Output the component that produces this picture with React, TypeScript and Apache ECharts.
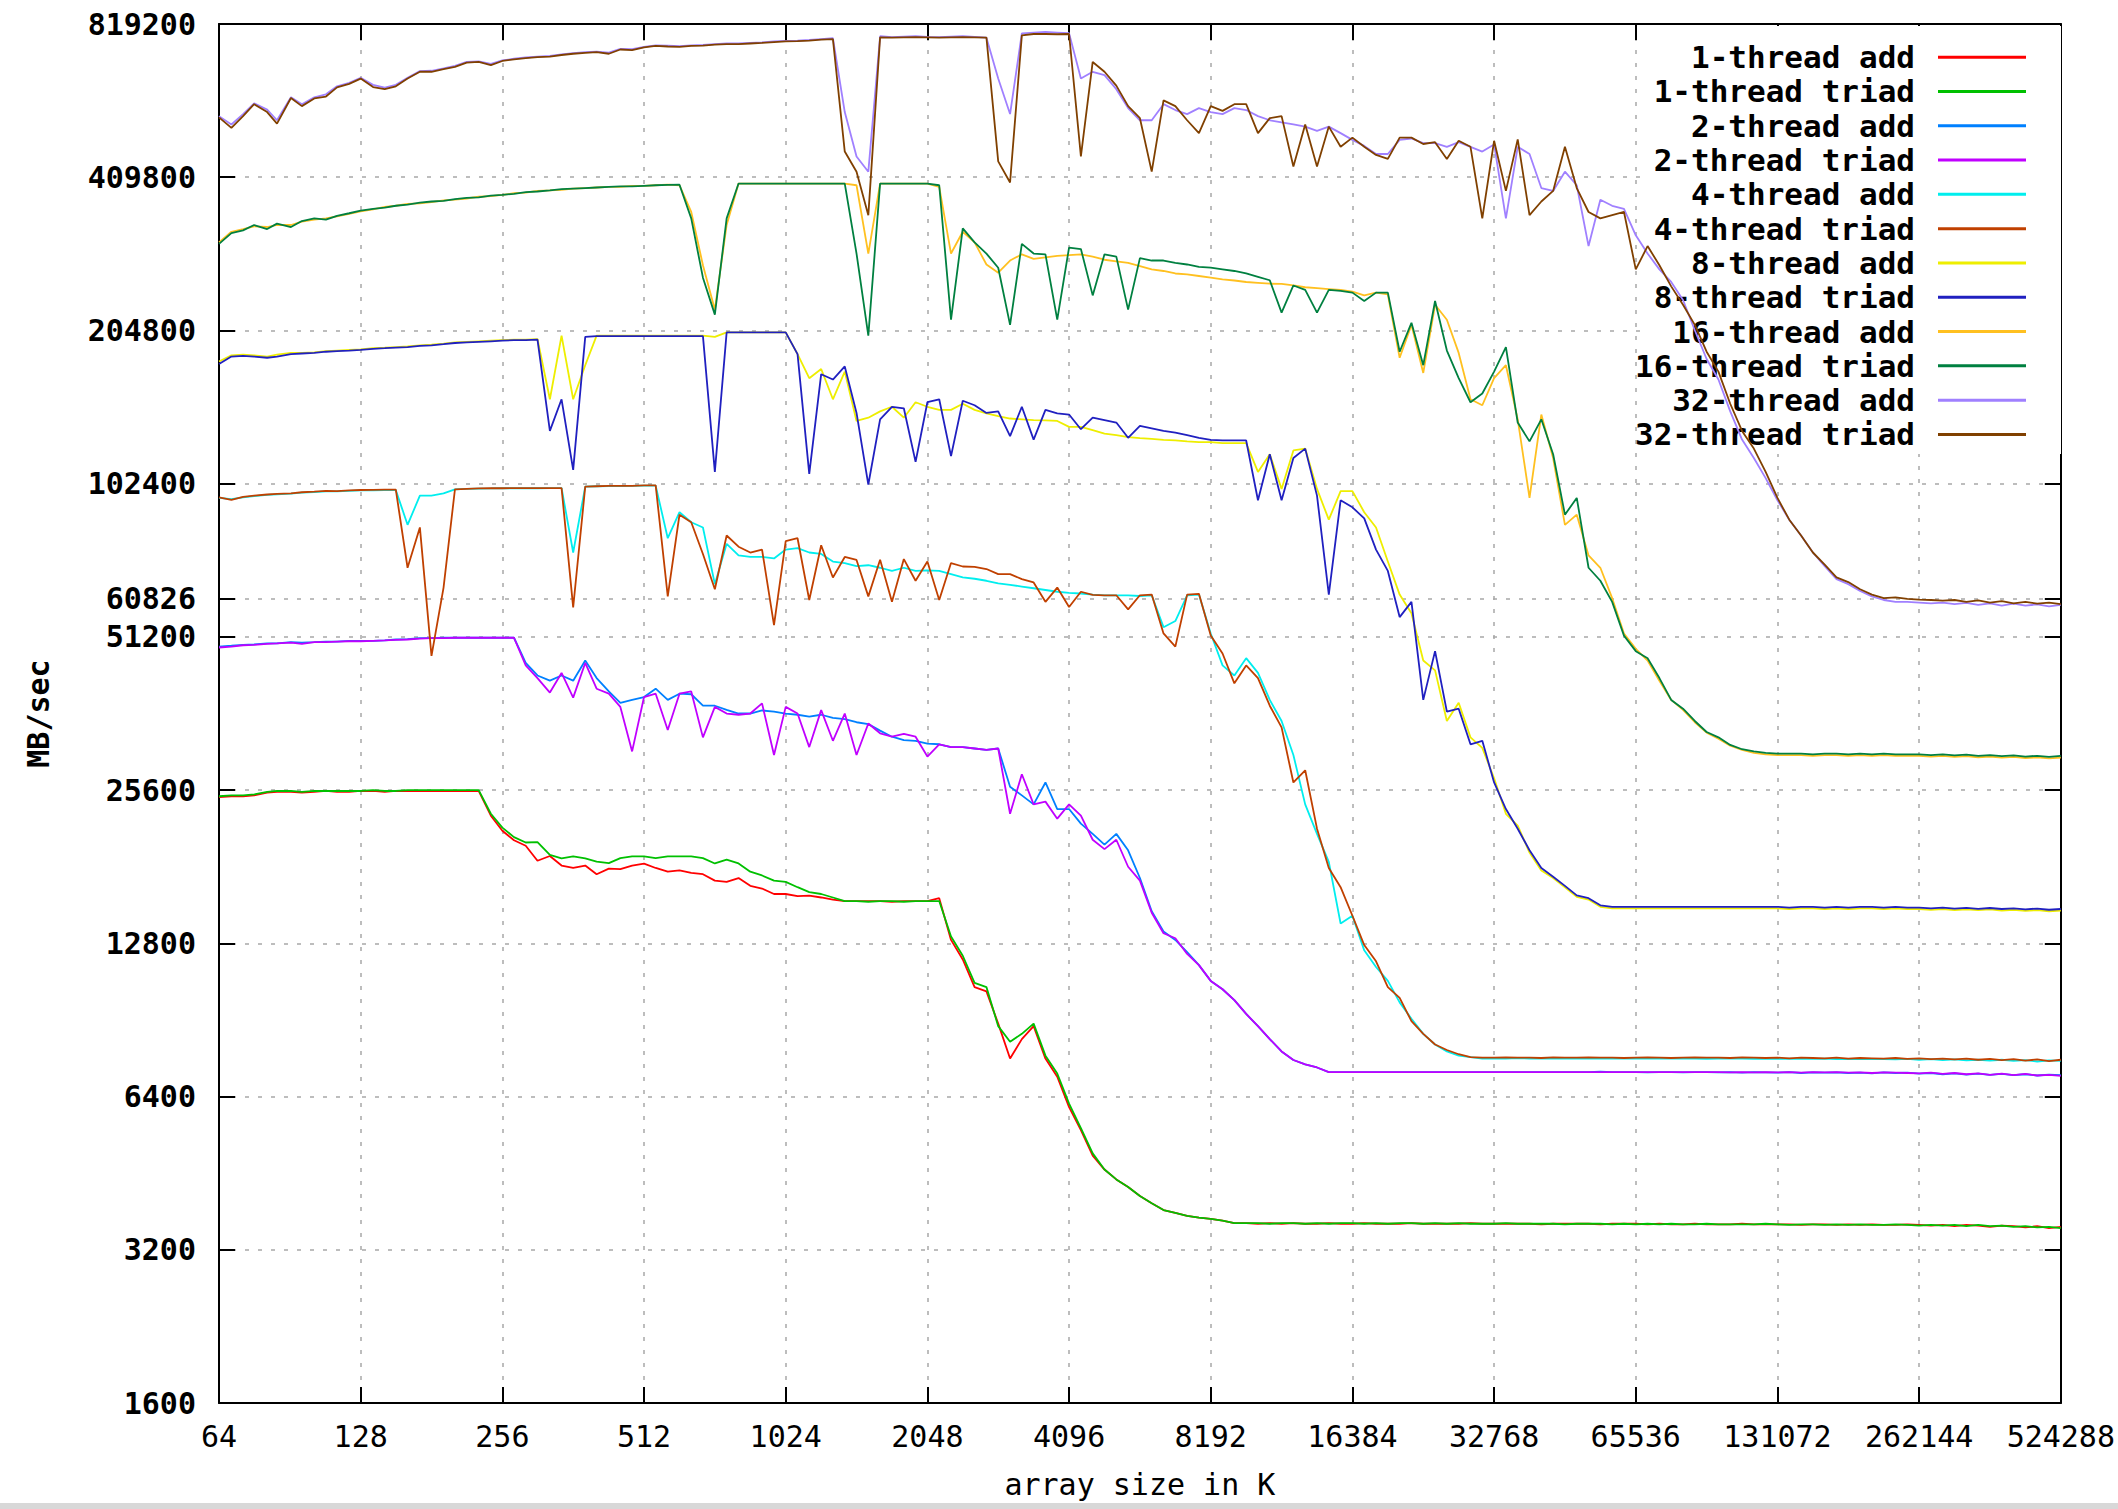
import React, { useEffect, useRef } from 'react';
import * as echarts from 'echarts';

// array sizes in K (x values of every sample)
const sizeK = [
  64, 68, 72, 76, 81, 85, 91, 96, 102, 108, 114, 121,
  128, 136, 144, 152, 161, 171, 181, 192, 203, 215, 228, 242,
  256, 271, 287, 304, 323, 342, 362, 384, 406, 431, 456, 483,
  512, 542, 575, 609, 645, 683, 724, 767, 813, 861, 912, 967,
  1024, 1085, 1149, 1218, 1290, 1367, 1448, 1534, 1625, 1722, 1825, 1933,
  2048, 2170, 2299, 2435, 2580, 2734, 2896, 3069, 3251, 3444, 3649, 3866,
  4096, 4340, 4598, 4871, 5161, 5468, 5793, 6137, 6502, 6889, 7298, 7732,
  8192, 8679, 9195, 9742, 10321, 10935, 11585, 12274, 13004, 13777, 14596, 15464,
  16384, 17358, 18390, 19484, 20643, 21870, 23170, 24548, 26008, 27554, 29193, 30929,
  32768, 34716, 36781, 38968, 41285, 43740, 46341, 49097, 52016, 55109, 58386, 61858,
  65536, 69433, 73562, 77936, 82570, 87480, 92682, 98193, 104032, 110218, 116772, 123716,
  131072, 138866, 147123, 155872, 165140, 174959, 185364, 196386, 208064, 220436, 233544, 247433,
  262144, 277732, 294247, 311744, 330281, 349920, 370728, 392772, 416128, 440872, 467088, 494866,
  524288,
];

// MB/sec values, one per array size
const add1 = [
  24800, 24900, 24900, 25000, 25300, 25400, 25400, 25300, 25400, 25500, 25400, 25400,
  25500, 25500, 25400, 25500, 25500, 25500, 25500, 25500, 25500, 25500, 25500, 22800,
  21300, 20400, 19900, 18600, 19000, 18200, 18000, 18200, 17500, 17950, 17900, 18200,
  18350, 18000, 17700, 17800, 17600, 17500, 17000, 16900, 17200, 16600, 16400, 16000,
  16000, 15850, 15880, 15750, 15600, 15490, 15490, 15490, 15490, 15450, 15490, 15490,
  15500, 15700, 13000, 11900, 10500, 10300, 8900, 7600, 8300, 8800, 7600, 7000,
  6100, 5500, 4900, 4600, 4400, 4250, 4080, 3950, 3830, 3780, 3730, 3700,
  3680, 3650, 3610, 3610, 3600, 3610, 3600, 3610, 3600, 3600, 3610, 3600,
  3600, 3610, 3600, 3600, 3600, 3610, 3600, 3600, 3600, 3600, 3610, 3600,
  3600, 3600, 3600, 3600, 3590, 3600, 3600, 3600, 3600, 3590, 3600, 3600,
  3600, 3590, 3600, 3590, 3590, 3600, 3590, 3590, 3590, 3600, 3590, 3590,
  3590, 3590, 3580, 3590, 3590, 3580, 3590, 3580, 3590, 3580, 3580, 3590,
  3580, 3570, 3580, 3560, 3580, 3570, 3550, 3570, 3560, 3540, 3560, 3530,
  3550,
];
const triad1 = [
  24900, 25000, 25000, 25100, 25400, 25500, 25500, 25400, 25500, 25500, 25500, 25500,
  25500, 25600, 25500, 25500, 25600, 25600, 25600, 25600, 25600, 25600, 25600, 23000,
  21600, 20700, 20200, 20240, 19100, 18800, 18970, 18800, 18520, 18400, 18820, 18970,
  18970, 18820, 18970, 18970, 18970, 18820, 18370, 18700, 18370, 17700, 17400, 17000,
  16900, 16500, 16140, 16000, 15750, 15490, 15490, 15450, 15490, 15490, 15450, 15490,
  15490, 15500, 13200, 12100, 10700, 10500, 8800, 8200, 8500, 8900, 7700, 7100,
  6200, 5550, 4950, 4600, 4400, 4250, 4080, 3950, 3830, 3780, 3730, 3700,
  3680, 3650, 3610, 3610, 3610, 3600, 3610, 3610, 3600, 3610, 3600, 3610,
  3610, 3600, 3610, 3600, 3610, 3610, 3600, 3610, 3600, 3610, 3600, 3600,
  3600, 3610, 3600, 3600, 3600, 3600, 3590, 3600, 3600, 3600, 3590, 3600,
  3590, 3600, 3590, 3600, 3590, 3590, 3600, 3590, 3590, 3590, 3590, 3600,
  3590, 3580, 3590, 3590, 3580, 3590, 3580, 3590, 3580, 3580, 3590, 3580,
  3570, 3580, 3570, 3580, 3560, 3580, 3560, 3570, 3550, 3560, 3540, 3550,
  3530,
];
const add2 = [
  49000, 49200, 49400, 49500, 49700, 49700, 50000, 49900, 50000, 50100, 50100, 50300,
  50300, 50300, 50400, 50600, 50700, 50900, 50900, 51000, 51000, 51000, 51000, 51000,
  51000, 51000, 45500, 43000, 42000, 43000, 42000, 46000, 42500, 40000, 38000, 38500,
  39000, 40500, 38500, 39600, 39500, 37500, 37500, 36800, 36200, 36200, 36700, 36500,
  36200, 36000, 35700, 36000, 35500, 35300, 34800, 34500, 33500, 32600, 32100, 32000,
  31600, 31500, 31100, 31100, 30900, 30700, 30900, 26000, 25000, 24000, 26500, 23500,
  23500, 22000, 21000, 20000, 21000, 19500, 17200, 14800, 13500, 13000, 12300, 11600,
  10800, 10400, 9900, 9300, 8800, 8300, 7850, 7550, 7400, 7300, 7150, 7150,
  7150, 7150, 7150, 7150, 7150, 7150, 7150, 7150, 7150, 7150, 7150, 7150,
  7150, 7150, 7150, 7150, 7150, 7150, 7150, 7150, 7150, 7160, 7150, 7150,
  7150, 7140, 7150, 7150, 7140, 7150, 7150, 7140, 7150, 7130, 7150, 7140,
  7130, 7150, 7120, 7140, 7130, 7140, 7120, 7130, 7110, 7140, 7120, 7130,
  7100, 7120, 7080, 7110, 7070, 7100, 7060, 7090, 7050, 7080, 7040, 7070,
  7050,
];
const triad2 = [
  48800, 49000, 49300, 49400, 49600, 49700, 49900, 49600, 50000, 50000, 50100, 50200,
  50200, 50300, 50400, 50500, 50600, 50800, 50900, 50900, 51000, 51000, 51000, 51000,
  51000, 51000, 45000, 42500, 39800, 43500, 38900, 45500, 40500, 39600, 37300, 30500,
  39000, 39600, 33600, 39600, 40000, 32500, 37300, 36200, 36000, 36200, 37900, 30000,
  37300, 36200, 31100, 36760, 32000, 36200, 30000, 34600, 33100, 32600, 33000, 32600,
  29800, 31500, 31100, 31100, 30900, 30700, 30900, 23000, 27500, 24000, 24300, 22500,
  24000, 22800, 20450, 19600, 20450, 18100, 17000, 14700, 13400, 13100, 12200, 11600,
  10800, 10400, 9900, 9300, 8800, 8300, 7850, 7550, 7400, 7300, 7150, 7150,
  7150, 7150, 7150, 7150, 7150, 7150, 7150, 7150, 7150, 7150, 7150, 7150,
  7150, 7150, 7150, 7150, 7150, 7150, 7150, 7150, 7150, 7150, 7150, 7150,
  7150, 7150, 7150, 7150, 7150, 7150, 7150, 7150, 7140, 7150, 7140, 7150,
  7140, 7150, 7130, 7150, 7140, 7150, 7130, 7140, 7120, 7140, 7130, 7120,
  7110, 7130, 7090, 7120, 7080, 7110, 7060, 7100, 7050, 7090, 7040, 7060,
  7030,
];
const add4 = [
  96000, 95500, 96200, 96800, 97300, 97600, 97900, 98300, 98600, 98900, 98900, 99100,
  99300, 99400, 99500, 99500, 85000, 97000, 97000, 98000, 99800, 100000, 100100, 100200,
  100300, 100300, 100300, 100300, 100400, 100400, 75000, 101000, 101200, 101300, 101300, 101400,
  101500, 101500, 80000, 90000, 86000, 84000, 65000, 78000, 74000, 73500, 73500, 73000,
  76000, 76500, 75000, 74500, 72000, 71500, 70500, 70800, 70000, 69000, 70000, 69000,
  69200, 69000, 68000, 67000, 66600, 66000, 65200, 64800, 64300, 63800, 63300, 62800,
  62500, 62300, 62000, 61800, 61800, 61800, 61600, 61800, 53500, 55000, 61800, 62000,
  52000, 45000, 43000, 46500, 43500, 38500, 35000, 30000, 24000, 21000, 18500, 14000,
  14500, 12400, 11500, 10800, 9800, 9100, 8500, 8100, 7850, 7700, 7650, 7600,
  7600, 7600, 7620, 7600, 7600, 7600, 7600, 7610, 7600, 7600, 7600, 7600,
  7600, 7600, 7610, 7600, 7600, 7600, 7590, 7600, 7600, 7600, 7590, 7600,
  7590, 7600, 7590, 7590, 7600, 7580, 7590, 7580, 7590, 7580, 7570, 7590,
  7560, 7580, 7550, 7570, 7540, 7560, 7530, 7560, 7520, 7550, 7500, 7540,
  7520,
];
const triad4 = [
  96200, 95200, 96500, 97000, 97500, 97800, 98000, 98500, 98800, 99100, 99000, 99300,
  99500, 99600, 99700, 99700, 70000, 84000, 47000, 64000, 99800, 100000, 100200, 100300,
  100300, 100400, 100400, 100400, 100400, 100400, 58500, 101000, 101200, 101400, 101400, 101400,
  101600, 101600, 61500, 89000, 86000, 74500, 63500, 81000, 77000, 75000, 76000, 54000,
  79000, 80000, 60500, 77500, 67000, 73500, 72500, 61500, 72600, 60000, 72800, 66000,
  72000, 60500, 71500, 70400, 70300, 69600, 68000, 68000, 66500, 65500, 60000, 64000,
  58600, 62800, 61900, 61800, 61800, 58000, 61800, 62000, 52000, 49000, 62000, 62200,
  51500, 47500, 41500, 45000, 42500, 37500, 34000, 26500, 28000, 21500, 18000, 16500,
  14500, 12700, 11800, 10500, 10000, 9000, 8500, 8100, 7900, 7750, 7650, 7630,
  7630, 7640, 7630, 7630, 7620, 7640, 7630, 7630, 7640, 7630, 7630, 7620,
  7630, 7640, 7630, 7620, 7630, 7640, 7630, 7630, 7620, 7640, 7630, 7620,
  7630, 7610, 7630, 7620, 7610, 7630, 7600, 7620, 7610, 7600, 7620, 7590,
  7610, 7580, 7600, 7570, 7600, 7560, 7590, 7550, 7580, 7530, 7570, 7510,
  7560,
];
const add8 = [
  178000, 183000, 183500, 183000, 182000, 183500, 185000, 185000, 185500, 186500, 187000, 187500,
  188000, 189000, 189500, 190000, 190500, 191500, 192000, 193000, 194000, 194500, 195000, 195500,
  196000, 196500, 196500, 197000, 150000, 200000, 150000, 175000, 200000, 200000, 200000, 200000,
  200000, 200000, 200000, 200000, 200000, 200000, 199000, 203000, 203000, 203000, 203000, 203000,
  203000, 184000, 165000, 172000, 150000, 170000, 136000, 138000, 142000, 145000, 138000, 148000,
  145000, 143000, 143000, 147000, 143000, 140800, 139000, 137500, 137000, 136500, 136400, 136000,
  132400, 132400, 130400, 128400, 127500, 126400, 125800, 125400, 124800, 124500, 124000, 123600,
  123600, 123000, 123000, 123000, 108000, 117000, 100000, 119000, 120000, 100000, 87000, 99000,
  99000, 90000, 84000, 72000, 62000, 57000, 46000, 44000, 35000, 38000, 32500, 31000,
  27000, 23000, 21800, 19300, 17800, 17200, 16500, 15800, 15600, 15100, 15000, 15000,
  15000, 15000, 15000, 15000, 15000, 15000, 15000, 15000, 15000, 15000, 15000, 15000,
  15000, 14950, 15000, 15000, 14950, 15000, 14950, 15000, 15000, 14950, 15000, 14950,
  14950, 14900, 14950, 14880, 14930, 14870, 14920, 14850, 14900, 14830, 14880, 14800,
  14850,
];
const triad8 = [
  176000, 182000, 182500, 182000, 181000, 182000, 184000, 184500, 185000, 186000, 186500, 187000,
  187500, 188500, 189000, 189500, 190000, 191000, 191500, 192500, 193500, 194000, 194500, 195000,
  195500, 196000, 196000, 196500, 130000, 150000, 109000, 199000, 199600, 199600, 199600, 199600,
  199600, 199600, 199600, 199600, 199600, 199600, 108000, 203000, 203000, 203000, 203000, 203000,
  203000, 184000, 107000, 168000, 164000, 174000, 141000, 102000, 137000, 145000, 144000, 113000,
  148000, 150000, 116000, 149000, 146000, 141000, 142000, 127000, 145000, 125000, 143000, 140800,
  140000, 131000, 138000, 136500, 135000, 126000, 133000, 131500, 130000, 129000, 127500, 126000,
  124800, 124500, 124500, 124500, 95000, 117000, 95000, 115000, 120000, 97000, 62000, 95000,
  92000, 87500, 76000, 69000, 56000, 60000, 38500, 48000, 36500, 37000, 31500, 32000,
  26500, 23500, 21500, 19500, 18000, 17300, 16600, 15900, 15700, 15200, 15100, 15100,
  15100, 15100, 15100, 15100, 15100, 15100, 15100, 15100, 15100, 15100, 15100, 15100,
  15100, 15050, 15100, 15100, 15050, 15100, 15050, 15100, 15100, 15050, 15100, 15050,
  15050, 15000, 15050, 14980, 15030, 14960, 15020, 14950, 15000, 14930, 14980, 14900,
  14950,
];
const add16 = [
  305000, 320000, 324000, 328000, 327000, 330000, 330000, 335000, 338000, 340000, 343000, 347000,
  351000, 354000, 358000, 360000, 363000, 364000, 366000, 369000, 370000, 372000, 375000, 376000,
  378000, 381000, 382000, 385000, 386000, 387000, 389000, 390000, 391000, 392000, 392000, 394000,
  394000, 395000, 396000, 395000, 350000, 275000, 225000, 330000, 398000, 398000, 398000, 398000,
  398000, 398000, 398000, 398000, 398000, 398000, 395000, 290000, 398000, 398000, 398000, 398000,
  398000, 392000, 290000, 320000, 305000, 276000, 266000, 281000, 289000, 283000, 285000, 287000,
  288000, 289000, 286000, 282000, 280000, 278000, 274000, 270000, 268000, 265000, 264000, 262000,
  260000, 258000, 256700, 255000, 254000, 253000, 252900, 251000, 249000, 248000, 247000, 246000,
  244000, 240000, 243000, 241000, 181000, 210000, 169000, 230000, 215000, 185000, 150000, 146000,
  165000, 175000, 137000, 96000, 140000, 115000, 85000, 89000, 74000, 70000, 61000, 52000,
  48500, 46000, 42000, 38500, 36800, 34800, 33200, 32300, 31300, 30700, 30300, 30100,
  30000, 30000, 30000, 29900, 30000, 30000, 29900, 30000, 29900, 30000, 29900, 29900,
  29900, 29800, 29900, 29750, 29850, 29700, 29800, 29650, 29750, 29600, 29700, 29550,
  29650,
];
const triad16 = [
  303000, 318000, 322000, 330000, 324000, 332000, 327000, 336000, 340000, 338000, 344000, 348000,
  352000, 355000, 357000, 360000, 362000, 365000, 367000, 368000, 371000, 373000, 374000, 377000,
  378000, 380000, 383000, 384000, 386000, 388000, 389000, 390000, 391000, 392000, 393000, 393000,
  394000, 395000, 395500, 396000, 340000, 260000, 220000, 340000, 398000, 398000, 398000, 398000,
  398000, 398000, 398000, 398000, 398000, 398000, 290000, 200000, 398000, 398000, 398000, 398000,
  398000, 395000, 215000, 325000, 305000, 290000, 272000, 210000, 303000, 290000, 289000, 215000,
  298000, 296000, 240000, 289000, 286000, 225000, 284000, 281000, 281000, 278000, 276000, 273000,
  272000, 270000, 268000, 265000, 261000, 257000, 222000, 251000, 246000, 222000, 246000, 245000,
  243000, 234000, 243000, 243000, 186000, 212000, 175000, 234000, 187000, 165000, 148000, 154000,
  170000, 190000, 135000, 124000, 137000, 117000, 89000, 96000, 70000, 66000, 60000, 51500,
  48000, 46500, 42500, 38500, 37000, 35000, 33300, 32500, 31400, 30800, 30500, 30300,
  30200, 30200, 30200, 30100, 30200, 30200, 30100, 30200, 30100, 30200, 30100, 30100,
  30100, 30000, 30100, 29950, 30050, 29900, 30000, 29850, 29950, 29800, 29900, 29750,
  29900,
];
const add32 = [
  540000, 520000, 545000, 572000, 556000, 530000, 588000, 570000, 588000, 596000, 618000, 628000,
  642000, 622000, 614000, 622000, 642000, 662000, 663000, 670000, 678000, 690000, 692000, 684000,
  695000, 700000, 704000, 707000, 709000, 714000, 718000, 721000, 723000, 720000, 732000, 731000,
  739000, 744000, 743000, 741000, 744000, 745000, 748000, 750000, 750000, 752000, 754000, 757000,
  759000, 760000, 762000, 765000, 768000, 550000, 450000, 420000, 775000, 772000, 774000, 775000,
  773000, 772000, 774000, 775000, 773000, 770000, 640000, 545000, 785000, 788000, 790000, 788000,
  786000, 640000, 660000, 650000, 610000, 560000, 530000, 530000, 570000, 555000, 545000, 560000,
  550000, 545000, 560000, 555000, 540000, 530000, 525000, 520000, 515000, 505000, 515000, 500000,
  485000, 472000, 455000, 455000, 485000, 488000, 478000, 478000, 470000, 480000, 470000, 460000,
  475000, 340000, 470000, 455000, 390000, 385000, 420000, 395000, 300000, 370000, 360000, 355000,
  315000, 290000, 270000, 255000, 235000, 205000, 180000, 164000, 142000, 125000, 115000, 105000,
  95000, 87000, 81000, 75000, 70500, 66500, 65000, 63000, 61500, 60500, 60000, 60000,
  59800, 59600, 59800, 59400, 59700, 59200, 59600, 59000, 59500, 59000, 59300, 58800,
  59200,
];
const triad32 = [
  537000, 512000, 540000, 570000, 550000, 522000, 586000, 565000, 585000, 590000, 615000, 625000,
  640000, 616000, 610000, 618000, 640000, 660000, 660000, 668000, 675000, 688000, 690000, 680000,
  693000, 698000, 702000, 705000, 707000, 712000, 716000, 719000, 721000, 716000, 730000, 728000,
  737000, 742000, 740000, 739000, 742000, 743000, 746000, 748000, 748000, 750000, 752000, 755000,
  757000, 758000, 760000, 763000, 765000, 460000, 420000, 345000, 771000, 770000, 771000, 772000,
  771000, 770000, 771000, 772000, 771000, 770000, 440000, 400000, 778000, 783000, 783000, 782000,
  783000, 450000, 690000, 660000, 620000, 565000, 535000, 420000, 580000, 565000, 530000, 500000,
  565000, 553000, 570000, 570000, 500000, 535000, 540000, 430000, 520000, 430000, 515000, 470000,
  490000, 470000, 453000, 445000, 490000, 490000, 476000, 480000, 445000, 483000, 470000, 340000,
  483000, 385000, 486000, 345000, 367000, 385000, 470000, 390000, 350000, 340000, 345000, 350000,
  270000, 300000, 275000, 250000, 230000, 210000, 186000, 170000, 147000, 130000, 120000, 108000,
  96000, 87000, 81000, 75000, 71000, 67000, 65600, 63500, 62000, 61000, 61200, 60800,
  60600, 60500, 60300, 60500, 60000, 60400, 59800, 60200, 59600, 60000, 59500, 59800,
  59400,
];

const xTicks = [64, 128, 256, 512, 1024, 2048, 4096, 8192, 16384, 32768, 65536, 131072, 262144, 524288];
const yTicks = [1600, 3200, 6400, 12800, 25600, 51200, 60826, 102400, 204800, 409800, 819200];

const seriesNames = [
  '1-thread add', '1-thread triad', '2-thread add', '2-thread triad',
  '4-thread add', '4-thread triad', '8-thread add', '8-thread triad',
  '16-thread add', '16-thread triad', '32-thread add', '32-thread triad',
];
const seriesColors = [
  '#ff0000', '#00c000', '#0080ff', '#c000ff', '#00eeee', '#c04000',
  '#eeee00', '#2020c0', '#ffc020', '#008040', '#a080ff', '#804000',
];
const seriesValues = [add1, triad1, add2, triad2, add4, triad4, add8, triad8, add16, triad16, add32, triad32];

const FONT = '"DejaVu Sans Mono", "Liberation Mono", monospace';

function nearestTick(v: number, ticks: number[]): number {
  let val = v;
  if (val > 0 && val < 40) val = Math.pow(2, val);
  let best = ticks[0];
  for (const t of ticks) {
    if (Math.abs(Math.log(t / val)) < Math.abs(Math.log(best / val))) best = t;
  }
  return best;
}

export default function App() {
  const ref = useRef<HTMLDivElement>(null);
  useEffect(() => {
    const chart = echarts.init(ref.current as HTMLDivElement, undefined, { renderer: 'svg' });
    const frame = { color: '#000', width: 2 };
    const gridLine = { color: '#a8a8a8', width: 1.5, type: [4, 9] as number[] };
    const tickStyle = { show: true, inside: true, length: 16, lineStyle: { color: '#000', width: 2 } };

    const series = seriesNames.map((name, k) => ({
      name,
      type: 'line',
      xAxisIndex: 0,
      yAxisIndex: 0,
      showSymbol: false,
      symbol: 'none',
      color: seriesColors[k],
      lineStyle: { color: seriesColors[k], width: 1.8 },
      itemStyle: { color: seriesColors[k] },
      emphasis: { disabled: true },
      data: sizeK.map((x, i) => [x, seriesValues[k][i]]),
      z: 2,
    }));

    const option = {
      animation: false,
      backgroundColor: '#ffffff',
      grid: { left: 219, top: 24, width: 1844, height: 1379, containLabel: false },
      legend: {
        data: seriesNames,
        orient: 'vertical',
        right: 57,
        top: 26,
        padding: [14, 35, 12, 4],
        itemGap: 0,
        itemWidth: 88,
        itemHeight: 3,
        icon: 'rect',
        align: 'right',
        selectedMode: false,
        z: 1.5,
        textStyle: {
          fontFamily: FONT,
          fontSize: 31,
          fontWeight: 'bold',
          color: '#000',
          lineHeight: 34.3,
          padding: [0, 18, 0, 0],
        },
      },
      xAxis: [
        {
          type: 'log',
          logBase: 2,
          min: 64,
          max: 524288,
          position: 'bottom',
          name: 'array size in K',
          nameLocation: 'middle',
          nameGap: 66,
          nameTextStyle: { fontFamily: FONT, fontSize: 30, color: '#000' },
          axisLine: { show: true, onZero: false, lineStyle: frame },
          axisTick: { ...tickStyle, customValues: xTicks },
          axisLabel: {
            show: true,
            customValues: xTicks,
            margin: 18,
            fontFamily: FONT,
            fontSize: 30,
            color: '#000',
            formatter: (v: number) => String(nearestTick(v, xTicks)),
          },
          splitLine: { show: true, lineStyle: gridLine },
          minorTick: { show: false },
          minorSplitLine: { show: false },
        },
        {
          type: 'log',
          logBase: 2,
          min: 64,
          max: 524288,
          position: 'top',
          axisLine: { show: true, onZero: false, lineStyle: frame },
          axisTick: { ...tickStyle, customValues: xTicks },
          axisLabel: { show: false, customValues: xTicks },
          splitLine: { show: false },
        },
      ],
      yAxis: [
        {
          type: 'log',
          logBase: 2,
          min: 1600,
          max: 819200,
          position: 'left',
          name: 'MB/sec',
          nameLocation: 'middle',
          nameGap: 166,
          nameRotate: 90,
          nameTextStyle: { fontFamily: FONT, fontSize: 30, fontWeight: 'bold', color: '#000' },
          axisLine: { show: true, onZero: false, lineStyle: frame },
          axisTick: { ...tickStyle, customValues: yTicks },
          axisLabel: {
            show: true,
            customValues: yTicks,
            margin: 23,
            fontFamily: FONT,
            fontSize: 30,
            fontWeight: 'bold',
            color: '#000',
            formatter: (v: number) => String(nearestTick(v, yTicks)),
          },
          splitLine: { show: true, lineStyle: gridLine },
          minorTick: { show: false },
          minorSplitLine: { show: false },
        },
        {
          type: 'log',
          logBase: 2,
          min: 1600,
          max: 819200,
          position: 'right',
          axisLine: { show: true, onZero: false, lineStyle: frame },
          axisTick: { ...tickStyle, customValues: yTicks },
          axisLabel: { show: false, customValues: yTicks },
          splitLine: { show: false },
        },
      ],
      graphic: [
        {
          type: 'rect',
          left: 1641,
          top: 26,
          z: 1,
          shape: { width: 420, height: 428 },
          style: { fill: '#ffffff' },
          silent: true,
        },
        {
          type: 'rect',
          left: 0,
          top: 1503,
          shape: { width: 2118, height: 6 },
          style: { fill: '#d8d8d8' },
          silent: true,
        },
      ],
      series,
    };
    chart.setOption(option as any);
    return () => chart.dispose();
  }, []);
  return (
    <div
      ref={ref}
      style={{ position: 'absolute', left: 0, top: 0, width: 2118, height: 1509, background: '#fff' }}
    />
  );
}
